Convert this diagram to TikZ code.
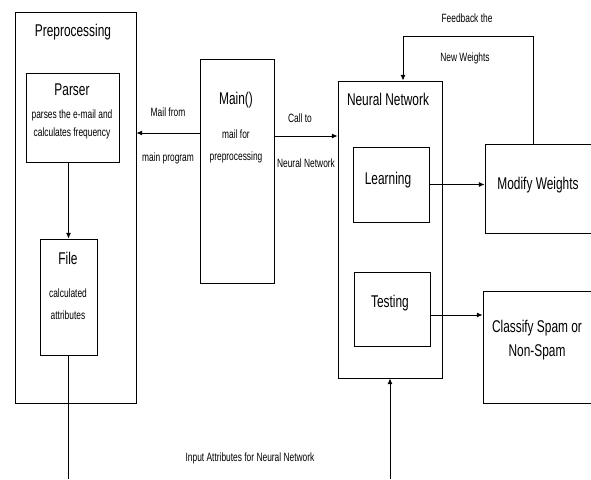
\documentclass[tikz,border=0pt]{standalone}
\usepackage{fontspec}
\setmainfont[FakeStretch=0.7]{Liberation Sans}
\usepackage{tikz}
\usetikzlibrary{arrows.meta,positioning,calc}
\tikzset{
  blk/.style={draw, line width=0.9pt, inner sep=0pt},
  big/.style={font=\fontsize{17}{20}\selectfont, inner sep=1pt},
  small/.style={font=\fontsize{12}{18}\selectfont, align=center, inner sep=1pt},
  flow/.style={-{Latex[length=2mm,width=1.8mm]}, line width=0.9pt},
  wire/.style={line width=0.9pt}
}

\begin{document}
\begin{tikzpicture}[x=1pt, y=-1pt]
\useasboundingbox (0,0) rectangle (591,479);
% boxes
\node[blk, minimum width=121pt, minimum height=391pt] (prep) at (75.5,207.5) {};
\node[blk, minimum width=93pt, minimum height=89pt] (parser) at (72.5,117.5) {};
\node[blk, minimum width=57pt, minimum height=116pt] (file) at (68.5,297) {};
\node[blk, minimum width=74pt, minimum height=224pt] (main) at (237,171) {};
\node[blk, minimum width=104pt, minimum height=297pt] (nn) at (390,229.5) {};
\node[blk, minimum width=76pt, minimum height=75pt] (learn) at (391,184.5) {};
\node[blk, minimum width=76pt, minimum height=74pt] (test) at (392,309) {};
\node[blk, minimum width=115pt, minimum height=89pt] (modw) at (542.5,188.5) {};
\node[blk, minimum width=117pt, minimum height=112pt] (clsf) at (541.5,347) {};
% texts
\node[big] (preptxt) at (73,32) {Preprocessing};
\node[big] (parsertxt) at (72,90) {Parser};
\node[small] (parsernote) at (72,124) {parses the e-mail and\\calculates frequency};
\node[big] (filetxt) at (68,258) {File};
\node[small, font=\fontsize{12}{22}\selectfont] (filenote) at (68,304) {calculated\\attributes};
\node[big] (maintxt) at (236,100) {Main()};
\node[small, font=\fontsize{12}{22}\selectfont] (mainnote) at (236,146) {mail for\\preprocessing};
\node[big] (nntxt) at (388,99) {Neural Network};
\node[big] (learntxt) at (388,180) {Learning};
\node[big] (testtxt) at (390,303) {Testing};
\node[big] (modwtxt) at (538,185) {Modify Weights};
\node[big, align=center, font=\fontsize{17}{24}\selectfont] (clsftxt) at (537,340) {Classify Spam or\\Non-Spam};
% connectors
\draw[flow] ([yshift=38pt]main.west) -- ([yshift=38pt]main.west -| prep.east);
\node[small] (mf1) at (168,112) {Mail from};
\node[small] (mf2) at (168,158) {main program};
\draw[flow] ([yshift=35pt]main.east) -- ([yshift=35pt]main.east -| nn.west);
\node[small] (ct1) at (300,118) {Call to};
\node[small] (ct2) at (306,163) {Neural Network};
\draw[flow] (file.north |- parser.south) -- (file.north);
\coordinate (filebot) at (68.5,479);
\draw[wire] (file.south) -- (filebot);
\draw[flow] (learn.east) -- (learn.east -| modw.west);
\draw[flow] ([yshift=-6pt]test.east) -- ([yshift=-6pt]test.east -| clsf.west);
\coordinate (nnin) at (390,479);
\draw[flow] (nnin) -- (nnin |- nn.south);
\coordinate (fbtop) at (403,36);
\draw[flow] ([xshift=-9.5pt]modw.north) |- (fbtop) -- (fbtop |- nn.north);
\node[small] (fb1) at (467,18) {Feedback the};
\node[small] (fb2) at (465,58) {New Weights};
\node[small] (inp) at (250,458) {Input Attributes for Neural Network};
\end{tikzpicture}
\end{document}
